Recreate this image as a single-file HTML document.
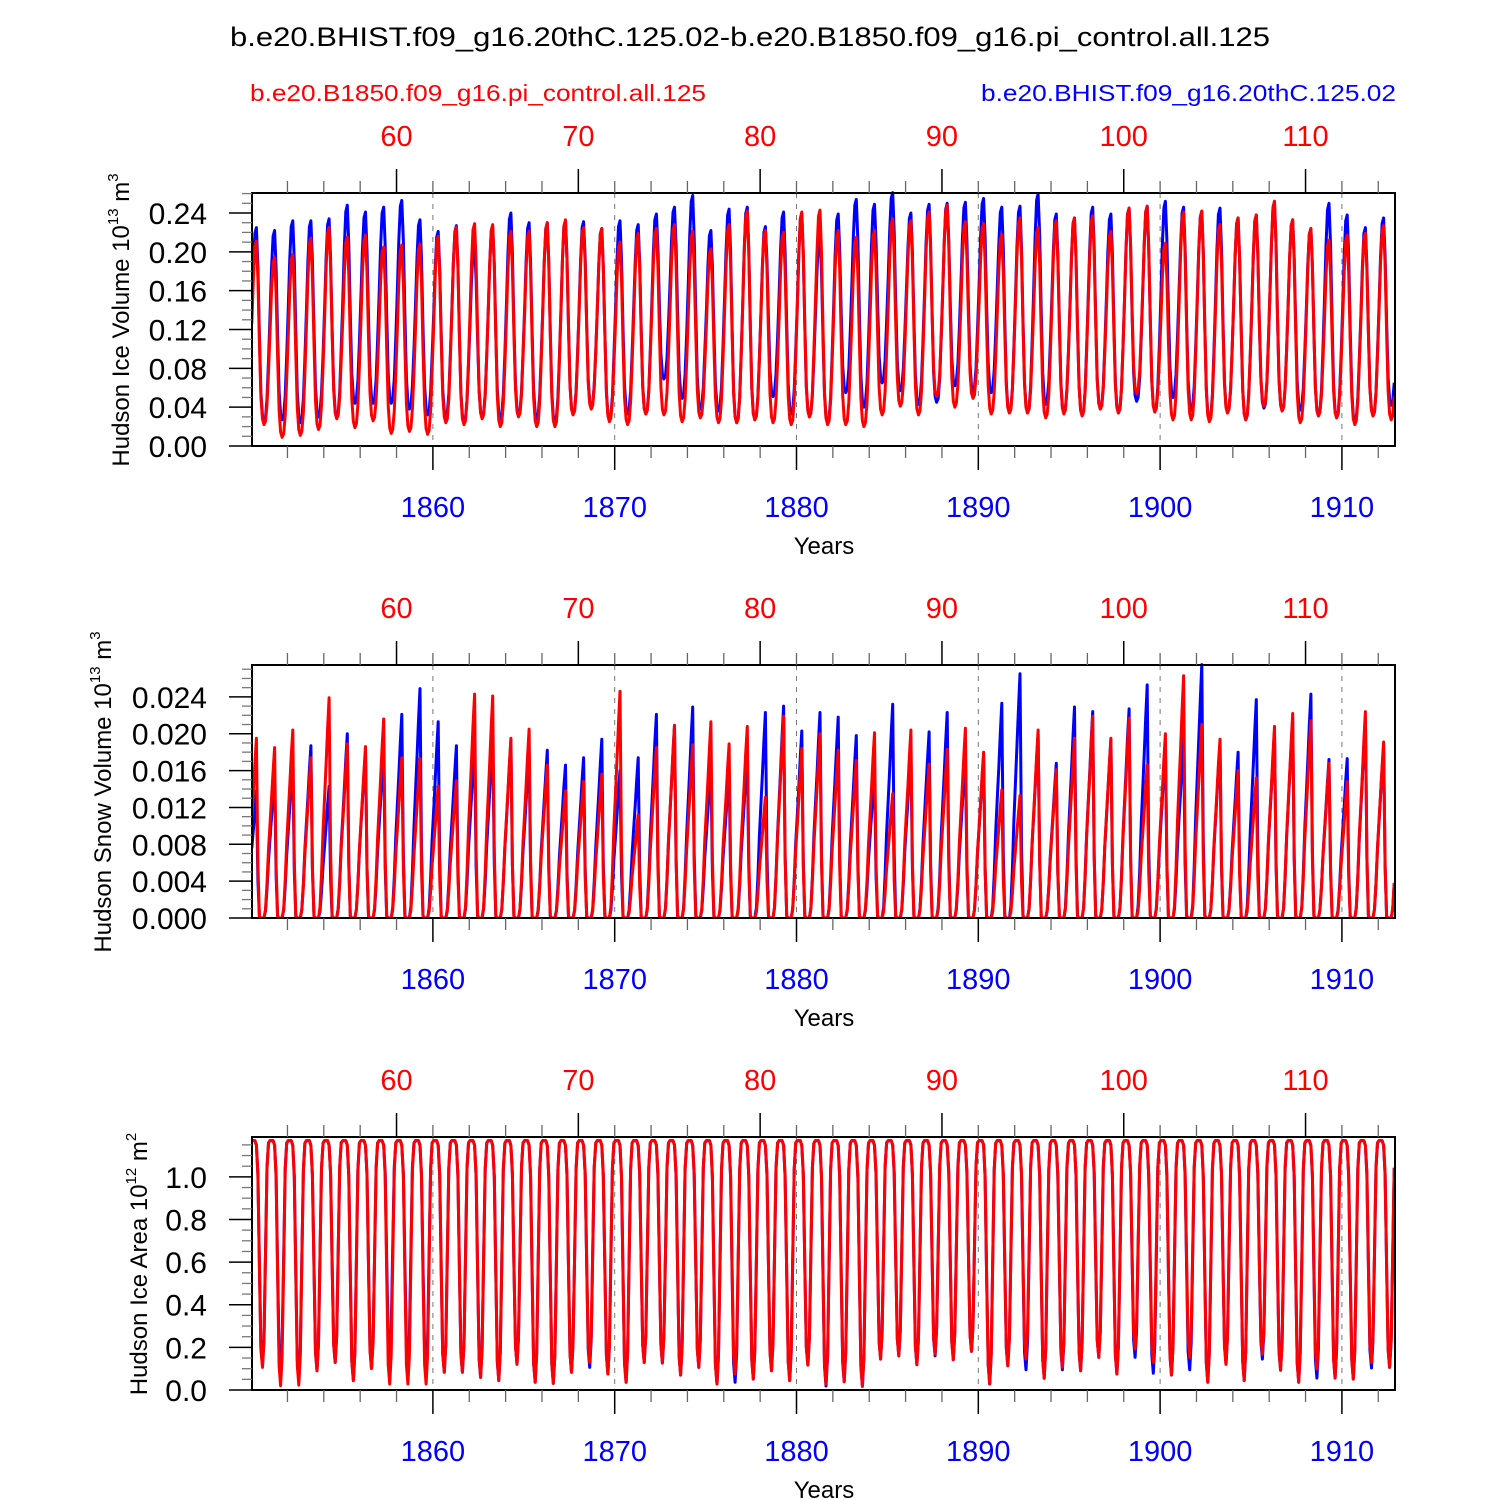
<!DOCTYPE html>
<html><head><meta charset="utf-8"><style>
html,body{margin:0;padding:0;background:#fff;}
svg{display:block;font-family:"Liberation Sans",Arial,sans-serif;}
</style></head><body>
<svg id="chart" width="1500" height="1500" viewBox="0 0 1500 1500" xmlns="http://www.w3.org/2000/svg">
<rect width="1500" height="1500" fill="#fff"/>
<text x="750" y="46" font-size="27" text-anchor="middle" textLength="1040" lengthAdjust="spacingAndGlyphs">b.e20.BHIST.f09_g16.20thC.125.02-b.e20.B1850.f09_g16.pi_control.all.125</text>
<text x="250" y="101" font-size="23" fill="#ff0000" textLength="456" lengthAdjust="spacingAndGlyphs">b.e20.B1850.f09_g16.pi_control.all.125</text>
<text x="1396" y="101" font-size="23" fill="#0000ff" text-anchor="end" textLength="415" lengthAdjust="spacingAndGlyphs">b.e20.BHIST.f09_g16.20thC.125.02</text>
<g id="plots"></g>
</svg>
<script>
// ---- data (annual peaks / minima) ----
const years = [1850,1912];
const volBluePeak = [.225,.222,.232,.232,.234,.248,.241,.246,.253,.233,.221,.227,.207,.226,.240,.230,.230,.232,.231,
 .224,.232,.228,.239,.246,.258,.222,.244,.246,.226,.241,.239,.218,.239,.254,.249,.261,.240,.249,.250,.251,.255,
 .246,.247,.260,.239,.235,.246,.239,.245,.247,.252,.246,.242,.245,.235,.238,.252,.233,.224,.250,.238,.225,.235];
const volRedPeak = [.211,.194,.197,.214,.225,.215,.217,.205,.207,.208,.216,.226,.229,.228,.221,.221,.230,.233,.225,
 .224,.210,.219,.224,.228,.221,.203,.228,.242,.222,.220,.241,.243,.222,.215,.222,.234,.232,.241,.248,.231,.229,
 .218,.235,.225,.232,.235,.237,.221,.245,.247,.209,.241,.242,.228,.235,.238,.252,.233,.224,.212,.217,.219,.227];
const volBlueMin = [.025,.027,.024,.030,.030,.044,.044,.044,.038,.032,.030,.025,.030,.028,.032,.028,.025,.033,.040,
 .027,.033,.033,.069,.049,.038,.036,.024,.027,.051,.033,.030,.024,.055,.040,.065,.057,.043,.045,.062,.056,.055,
 .034,.034,.043,.034,.031,.038,.034,.046,.035,.050,.037,.027,.034,.027,.039,.036,.037,.031,.029,.025,.031,.042];
const volRedMin = [.022,.009,.011,.017,.028,.019,.026,.013,.015,.012,.024,.022,.028,.020,.030,.020,.020,.032,.038,
 .025,.022,.033,.032,.025,.029,.024,.024,.027,.024,.022,.030,.022,.022,.020,.032,.041,.032,.051,.040,.049,.033,
 .034,.034,.029,.033,.031,.038,.034,.054,.035,.027,.027,.025,.034,.027,.041,.036,.024,.031,.029,.022,.031,.027];
const snowBluePeak = [.0138,.0156,.0170,.0187,.0143,.0200,.0181,.0181,.0221,.0249,.0213,.0187,.0188,.0195,.0192,.0181,.0182,.0166,.0174,.0194,.0160,.0174,
 .0221,.0209,.0229,.0166,.0161,.0177,.0223,.0230,.0203,.0223,.0218,.0198,.0159,.0232,.0181,.0202,.0223,.0177,.0177,.0233,
 .0265,.0199,.0168,.0229,.0224,.0194,.0227,.0253,.0186,.0196,.0275,.0188,.0180,.0237,.0202,.0217,.0243,.0172,.0173,.0217,.0188];
const snowRedPeak = [.0195,.0185,.0204,.0174,.0239,.0189,.0186,.0216,.0174,.0173,.0143,.0149,.0243,.0241,.0195,.0205,.0166,.0138,.0148,.0156,.0246,.0112,
 .0185,.0209,.0188,.0213,.0189,.0208,.0131,.0219,.0184,.0200,.0182,.0171,.0201,.0135,.0204,.0167,.0183,.0206,.0180,.0139,
 .0133,.0204,.0161,.0195,.0219,.0195,.0217,.0166,.0200,.0263,.0210,.0194,.0160,.0152,.0208,.0222,.0214,.0168,.0148,.0224,.0191];
const snowMin = 0;
const areaPeak = 1.17;
const areaRedMin = [.106,.020,.023,.090,.129,.044,.101,.028,.028,.028,.083,.083,.059,.044,.121,.036,.031,.083,.129,
 .075,.036,.129,.126,.070,.106,.028,.075,.051,.090,.044,.117,.028,.039,.017,.145,.160,.118,.168,.142,.181,.028,
 .114,.145,.055,.106,.090,.153,.075,.192,.129,.070,.153,.036,.121,.044,.168,.093,.036,.098,.056,.051,.129,.106];
const areaBlueMin = [.114,.090,.050,.090,.129,.044,.101,.160,.129,.106,.083,.083,.059,.044,.121,.036,.031,.083,.106,
 .075,.036,.129,.126,.070,.106,.028,.036,.051,.090,.044,.117,.019,.039,.017,.145,.160,.118,.160,.142,.181,.028,
 .114,.095,.055,.095,.090,.153,.075,.153,.079,.070,.095,.036,.121,.044,.145,.093,.036,.056,.056,.051,.103,.106];
// seasonal shapes (fraction of annual range), Jan..Dec
const volSeason = [.55,.8,.97,1,.8,.45,.15,.03,0,.02,.12,.32];
const snowSeason = [.55,.7,.86,1,.3,.01,0,0,0,.05,.2,.4];
const areaSeason = [1,1,1,.98,.85,.45,.08,0,.12,.5,.88,.99];
const yLabels1 = ["0.00","0.04","0.08","0.12","0.16","0.20","0.24"];
const yLabels2 = ["0.000","0.004","0.008","0.012","0.016","0.020","0.024"];
const yLabels3 = ["0.0","0.2","0.4","0.6","0.8","1.0"];
const bottomYears = [1860,1870,1880,1890,1900,1910];
const topYears = [60,70,80,90,100,110];
const yearOffset = 1798;

// ---- layout ----
const NS="http://www.w3.org/2000/svg";
const X0=252,X1=1395,T0=1850.05,T1=1912.92;
const xs=t=>X0+(t-T0)*(X1-X0)/(T1-T0);
const root=document.getElementById('plots');
function mk(tag,attrs,parent){const e=document.createElementNS(NS,tag);for(const k in attrs)e.setAttribute(k,attrs[k]);(parent||root).appendChild(e);return e;}

function monthly(peaks,mins,season,pk,mn){
  const out=[];
  const n=Array.isArray(peaks)?peaks.length:mins.length;
  const P=i=>Array.isArray(peaks)?peaks[i]:peaks;
  const M=i=>Array.isArray(mins)?mins[i]:mins;
  for(let y=0;y<n;y++){
    const hi=P(y),lo=M(y);
    for(let m=0;m<12;m++){
      let v;
      if(m<=pk){const lp=y>0?M(y-1):lo;v=lp+season[m]*(hi-lp);}
      else if(m<=mn){v=lo+season[m]*(hi-lo);}
      else{const hn=y<n-1?P(y+1):hi;v=lo+season[m]*(hn-lo);}
      out.push([years[0]+y+(m+0.5)/12,v]);
    }
  }
  return out;
}

function panel(cfg){
  const g=mk('g',{});
  
  
  const Y0=cfg.top,Y1=cfg.top+253;
  const ys=v=>Y1-(v-cfg.min)*(Y1-Y0)/(cfg.max-cfg.min);
  const clip='clip'+cfg.top;
  const cp=mk('clipPath',{id:clip},g);mk('rect',{x:X0,y:Y0-2,width:X1-X0,height:Y1-Y0+2},cp);
  bottomYears.forEach(yr=>{const l=mk('line',{x1:xs(yr),x2:xs(yr),y1:Y0,y2:Y1,stroke:'#777','stroke-width':1,'stroke-dasharray':'5,6'},g);
    
    });
  [['blue',cfg.blue,'#0000ff'],['red',cfg.red,'#ff0000']].forEach(([nm,data,col])=>{
    const d=data.filter(p=>p[0]<=T1+0.01).map((p,i)=>(i?'L':'M')+xs(p[0]).toFixed(1)+','+ys(p[1]).toFixed(1)).join('');
    const pth=mk('path',{d:d,fill:'none',stroke:col,'stroke-width':3,'stroke-linejoin':'round','clip-path':'url(#'+clip+')'},g);
    
    
  });
  mk('rect',{x:X0,y:Y0,width:X1-X0,height:Y1-Y0,fill:'none',stroke:'#000','stroke-width':2},g);
  for(let yr=1852;yr<=1912;yr+=2){
    const x=xs(yr),maj=yr%10===0,topMaj=(yr-yearOffset)%10===0;
    mk('line',{x1:x,x2:x,y1:Y1,y2:Y1+(maj?24:12),stroke:maj?'#000':'#666','stroke-width':maj?1.5:1.3},g);
    mk('line',{x1:x,x2:x,y1:Y0,y2:Y0-(topMaj?24:12),stroke:topMaj?'#000':'#666','stroke-width':topMaj?1.5:1.3},g);
  }
  bottomYears.forEach(yr=>{const t=mk('text',{x:xs(yr),y:Y1+71,'font-size':29,fill:'#0000ff','text-anchor':'middle'},g);t.textContent=yr;
    
    });
  topYears.forEach(yr=>{const t=mk('text',{x:xs(yr+yearOffset),y:Y0-47,'font-size':29,fill:'#ff0000','text-anchor':'middle'},g);t.textContent=yr;
    
    });
  const nMinor=Math.floor((cfg.max-cfg.min)/cfg.minor+1e-6);
  for(let i=0;i<=nMinor;i++){const v=cfg.min+i*cfg.minor;const y=ys(v);
    const maj=Math.abs(v/cfg.major-Math.round(v/cfg.major))<1e-6;
    mk('line',{x1:X0-(maj?23:10),x2:X0,y1:y,y2:y,stroke:maj?'#000':'#777','stroke-width':maj?1.5:1.3},g);}
  cfg.labels.forEach(s=>{const v=parseFloat(s);const t=mk('text',{x:207,y:ys(v)+11,'font-size':30,'text-anchor':'end'},g);t.textContent=s;
    
    });
  const xt=mk('text',{x:824,y:Y1+108,'font-size':24,'text-anchor':'middle'},g);xt.textContent='Years';
  
  
  const yt=mk('text',{transform:`translate(${cfg.titleX},${cfg.titleY}) rotate(-90)`,'font-size':24,'text-anchor':'middle'},g);
  
  
  const a=mk('tspan',{},yt);a.textContent=cfg.title+' 10';
  const b=mk('tspan',{'font-size':15,dy:-11},yt);b.textContent=cfg.exp;
  const c=mk('tspan',{dy:11},yt);c.textContent=' m';
  const d=mk('tspan',{'font-size':15,dy:-11},yt);d.textContent=cfg.unitExp;
}

panel({name:'ice-volume-panel',top:193,min:0,max:0.2606,major:0.04,minor:0.01,labels:yLabels1,
  blue:monthly(volBluePeak,volBlueMin,volSeason,3,8),red:monthly(volRedPeak,volRedMin,volSeason,3,8),
  title:'Hudson Ice Volume',exp:'13',unitExp:'3',titleX:129,titleY:320});
panel({name:'snow-volume-panel',top:665,min:0,max:0.02746,major:0.004,minor:0.001,labels:yLabels2,
  blue:monthly(snowBluePeak,snowMin,snowSeason,3,8),red:monthly(snowRedPeak,snowMin,snowSeason,3,8),
  title:'Hudson Snow Volume',exp:'13',unitExp:'3',titleX:111,titleY:792});
panel({name:'ice-area-panel',top:1137,min:0,max:1.187,major:0.2,minor:0.05,labels:yLabels3,
  blue:monthly(areaPeak,areaBlueMin,areaSeason,3,7),red:monthly(areaPeak,areaRedMin,areaSeason,3,7),
  title:'Hudson Ice Area',exp:'12',unitExp:'2',titleX:147,titleY:1264});
</script>
</body></html>
